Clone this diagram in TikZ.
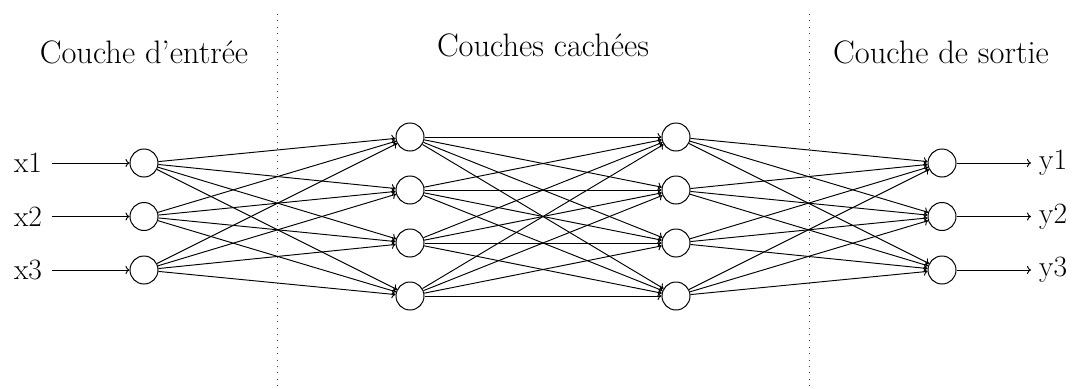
\documentclass[tikz,border=0pt]{standalone}
\usetikzlibrary{arrows.meta}
\begin{document}
\begin{tikzpicture}[x=1pt,y=-1pt,
    neuron/.style={circle,draw,line width=1pt,minimum size=28pt,inner sep=0pt},
    link/.style={line width=0.95pt,-{To[length=4pt,width=8pt]}},
    iolabel/.style={inner sep=0pt,font=\fontsize{29.5}{34}\selectfont},
    layertitle/.style={anchor=base,inner sep=0pt,font=\fontsize{32.5}{38}\selectfont},
    separator/.style={line width=0.9pt,black!75,dash pattern=on 1pt off 5.4pt}]
  \useasboundingbox (0,0) rectangle (1073,388);

  % layer separators
  \coordinate (s1t) at (277,14);
  \coordinate (s1b) at (277,386);
  \coordinate (s2t) at (809,14);
  \coordinate (s2b) at (809,386);
  \draw[separator] (s1t) -- (s1b);
  \draw[separator] (s2t) -- (s2b);

  % layer titles
  \node[layertitle] (tin)  at (144,63) {Couche d’entrée};
  \node[layertitle] (thid) at (543,56) {Couches cachées};
  \node[layertitle] (tout) at (941,63) {Couche de sortie};

  % input layer
  \foreach \i/\y in {1/163,2/216.5,3/270}{
    \node[neuron] (i\i) at (144,\y) {};
    \node[iolabel] (x\i) at (28,\y) {x\i};
    \draw[link,shorten <=10pt] (x\i) -- (i\i);
  }
  % hidden layers
  \foreach \j/\y in {1/137,2/190,3/243,4/296}{
    \node[neuron] (a\j) at (410,\y) {};
    \node[neuron] (b\j) at (676,\y) {};
  }
  % output layer
  \foreach \k/\y in {1/163,2/216.5,3/270}{
    \node[neuron] (o\k) at (942,\y) {};
    \node[iolabel,anchor=west] (y\k) at (1039,\y) {y\k};
    \draw[link,shorten >=8pt] (o\k) -- (y\k);
  }

  % connections
  \foreach \i in {1,2,3}{
    \foreach \j in {1,...,4}{
      \draw[link] (i\i) -- (a\j);
    }
  }
  \foreach \j in {1,...,4}{
    \foreach \m in {1,...,4}{
      \draw[link] (a\j) -- (b\m);
    }
  }
  \foreach \m in {1,...,4}{
    \foreach \k in {1,2,3}{
      \draw[link] (b\m) -- (o\k);
    }
  }
\end{tikzpicture}
\end{document}
